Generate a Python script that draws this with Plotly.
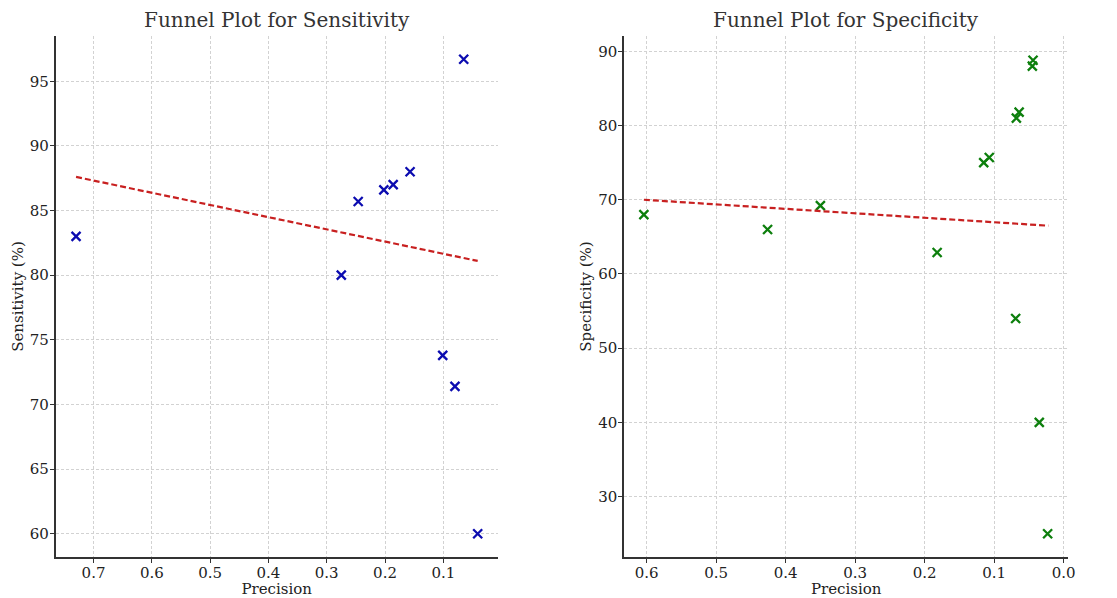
import plotly.graph_objects as go

# ---- data: sensitivity panel ----
sens_precision = [0.730, 0.275, 0.246, 0.202, 0.186, 0.157, 0.065, 0.101, 0.080, 0.041]
sens_values = [83.0, 80.0, 85.7, 86.6, 87.0, 88.0, 96.7, 73.8, 71.4, 60.0]
sens_trend_x = [0.730, 0.041]
sens_trend_y = [87.6, 81.1]

# ---- data: specificity panel ----
spec_precision = [0.604, 0.426, 0.350, 0.182, 0.115, 0.107, 0.068, 0.064,
                  0.045, 0.044, 0.069, 0.035, 0.023]
spec_values = [68.0, 66.0, 69.2, 62.9, 75.0, 75.7, 81.0, 81.8,
               88.0, 88.8, 54.0, 40.0, 25.0]
spec_trend_x = [0.604, 0.022]
spec_trend_y = [70.0, 66.5]

sens_xticks = [0.7, 0.6, 0.5, 0.4, 0.3, 0.2, 0.1]
sens_yticks = [60, 65, 70, 75, 80, 85, 90, 95]
spec_xticks = [0.6, 0.5, 0.4, 0.3, 0.2, 0.1, 0.0]
spec_yticks = [30, 40, 50, 60, 70, 80, 90]

W, H = 1117, 598
FONT = "DejaVu Serif"
BLUE = "#0c0cb0"
GREEN = "#0d7f0d"
RED = "#c82020"
AXC = "#333333"
GRIDC = "#d2d2d2"
TXT = "#222222"

fig = go.Figure()

fig.add_trace(go.Scatter(
    x=sens_precision, y=sens_values, mode="markers", xaxis="x", yaxis="y",
    marker=dict(symbol="x-thin", size=9, line=dict(width=2.3, color=BLUE), color=BLUE),
    showlegend=False))
fig.add_trace(go.Scatter(
    x=sens_trend_x, y=sens_trend_y, mode="lines", xaxis="x", yaxis="y",
    line=dict(color=RED, width=2.2, dash="6px,3px"), showlegend=False))

fig.add_trace(go.Scatter(
    x=spec_precision, y=spec_values, mode="markers", xaxis="x2", yaxis="y2",
    marker=dict(symbol="x-thin", size=9, line=dict(width=2.3, color=GREEN), color=GREEN),
    showlegend=False))
fig.add_trace(go.Scatter(
    x=spec_trend_x, y=spec_trend_y, mode="lines", xaxis="x2", yaxis="y2",
    line=dict(color=RED, width=2.2, dash="6px,3px"), showlegend=False))

ydom = [(H - 557) / H, (H - 36) / H]

def xaxis(domain, rng, ticks, anchor):
    return dict(
        domain=domain, range=rng, anchor=anchor, tickvals=ticks,
        ticktext=[f"{t:.1f}" for t in ticks],
        showline=True, linecolor=AXC, linewidth=1.5, mirror=False,
        ticks="outside", ticklen=4, tickcolor=AXC, tickwidth=1.2,
        ticklabelstandoff=-3,
        showgrid=True, gridcolor=GRIDC, gridwidth=1, griddash="3px,2px",
        zeroline=False, tickfont=dict(family=FONT, size=15, color=TXT),
        title=dict(text="Precision", font=dict(family=FONT, size=15, color=TXT), standoff=4),
    )

def yaxis(rng, ticks, anchor, title):
    return dict(
        domain=ydom, range=rng, anchor=anchor, tickvals=ticks,
        showline=True, linecolor=AXC, linewidth=1.5, mirror=False,
        ticks="outside", ticklen=4, tickcolor=AXC, tickwidth=1.2,
        ticklabelstandoff=-2,
        showgrid=True, gridcolor=GRIDC, gridwidth=1, griddash="3px,2px",
        zeroline=False, tickfont=dict(family=FONT, size=15, color=TXT),
        title=dict(text=title, font=dict(family=FONT, size=15, color=TXT), standoff=3),
    )

fig.update_layout(
    width=W, height=H,
    margin=dict(l=0, r=0, t=0, b=0),
    paper_bgcolor="white", plot_bgcolor="white",
    xaxis=xaxis([56 / W, 501 / W], [0.765, 0.0064], sens_xticks, "y"),
    yaxis=yaxis([58.2, 98.5], sens_yticks, "x", "Sensitivity (%)"),
    xaxis2=xaxis([628 / W, 1075 / W], [0.6325, -0.0067], spec_xticks, "y2"),
    yaxis2=yaxis([21.87, 92.06], spec_yticks, "x2", "Specificity (%)"),
    annotations=[
        dict(text="Funnel Plot for Sensitivity", x=(56 + 501) / 2 / W, y=1 - 20 / H,
             xref="paper", yref="paper", xanchor="center", yanchor="middle", showarrow=False,
             font=dict(family=FONT, size=20, color="#333")),
        dict(text="Funnel Plot for Specificity", x=(628 + 1075) / 2 / W, y=1 - 20 / H,
             xref="paper", yref="paper", xanchor="center", yanchor="middle", showarrow=False,
             font=dict(family=FONT, size=20, color="#333")),
    ],
)

fig.write_html("out.html")
